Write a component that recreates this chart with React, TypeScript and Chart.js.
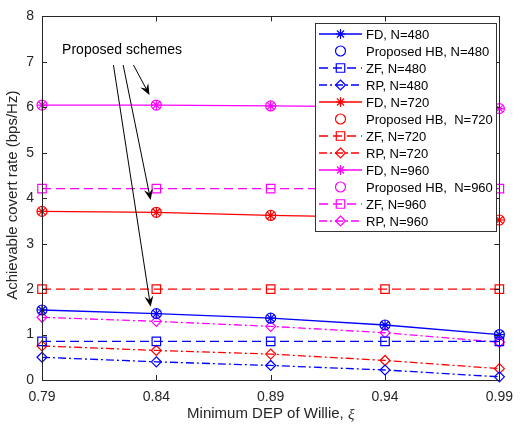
import React, { useEffect, useRef } from 'react';
import { Chart, registerables } from 'chart.js';

Chart.register(...registerables);

// ---- Data ----
const xLabels = ['0.79', '0.84', '0.89', '0.94', '0.99'];
const yMin = 0;
const yMax = 8;

const fd480 = [1.54, 1.46, 1.36, 1.21, 1.0];
const hb480 = [1.54, 1.46, 1.36, 1.21, 1.0];
const zf480 = [0.85, 0.85, 0.85, 0.85, 0.85];
const rp480 = [0.5, 0.4, 0.32, 0.22, 0.07];

const fd720 = [3.71, 3.69, 3.62, 3.58, 3.52];
const hb720 = [3.71, 3.69, 3.62, 3.58, 3.52];
const zf720 = [2.0, 2.0, 2.0, 2.0, 2.0];
const rp720 = [0.75, 0.65, 0.57, 0.43, 0.25];

const fd960 = [6.05, 6.05, 6.03, 6.01, 5.97];
const hb960 = [6.05, 6.05, 6.03, 6.01, 5.97];
const zf960 = [4.21, 4.21, 4.21, 4.21, 4.21];
const rp960 = [1.38, 1.29, 1.18, 1.04, 0.83];

const seriesLabels = [
  'FD, N=480', 'Proposed HB, N=480', 'ZF, N=480', 'RP, N=480',
  'FD, N=720', 'Proposed HB,  N=720', 'ZF, N=720', 'RP, N=720',
  'FD, N=960', 'Proposed HB,  N=960', 'ZF, N=960', 'RP, N=960',
];

// annotation (in data units: x as category index, y as value)
const annotText = 'Proposed schemes';
const annotTextPos = [0.7, 7.25];
const arrowStarts = [[0.8, 6.93], [0.71, 6.93], [0.625, 6.93]];
const arrowTips = [[0.94, 6.27], [0.95, 3.96], [0.95, 1.61]];

const BLUE = '#0000ff';
const RED = '#ff0000';
const MAG = '#ff00ff';
const FONT = '"Liberation Sans", Arial, Helvetica, sans-serif';
const AXC = '#262626';

const DASH = [9, 5];
const DASHDOT = [8, 3, 2, 3];

function makeSet(label: string, data: number[], color: string, kind: string) {
  const base: any = {
    label,
    data,
    borderColor: color,
    backgroundColor: 'rgba(0,0,0,0)',
    pointBorderColor: color,
    pointBackgroundColor: 'rgba(0,0,0,0)',
    borderWidth: 1.3,
    pointBorderWidth: 1.2,
    pointHoverRadius: 5,
    tension: 0,
  };
  if (kind === 'fd') {
    return { ...base, pointStyle: 'star', pointRadius: 5, showLine: true, borderDash: [] };
  }
  if (kind === 'hb') {
    return { ...base, pointStyle: 'circle', pointRadius: 5, showLine: false };
  }
  if (kind === 'zf') {
    return { ...base, pointStyle: 'rect', pointRadius: 6, showLine: true, borderDash: DASH };
  }
  return { ...base, pointStyle: 'rectRot', pointRadius: 5, showLine: true, borderDash: DASHDOT };
}

function drawMarker(ctx: CanvasRenderingContext2D, style: string, r: number, x: number, y: number, color: string) {
  ctx.save();
  ctx.strokeStyle = color;
  ctx.lineWidth = 1.2;
  ctx.setLineDash([]);
  ctx.beginPath();
  if (style === 'circle') {
    ctx.arc(x, y, r, 0, Math.PI * 2);
  } else if (style === 'rect') {
    const s = r * Math.SQRT1_2;
    ctx.rect(x - s, y - s, 2 * s, 2 * s);
  } else if (style === 'rectRot') {
    ctx.moveTo(x, y - r);
    ctx.lineTo(x + r, y);
    ctx.lineTo(x, y + r);
    ctx.lineTo(x - r, y);
    ctx.closePath();
  } else if (style === 'star') {
    ctx.moveTo(x - r, y); ctx.lineTo(x + r, y);
    ctx.moveTo(x, y - r); ctx.lineTo(x, y + r);
    const d = r * Math.SQRT1_2;
    ctx.moveTo(x - d, y - d); ctx.lineTo(x + d, y + d);
    ctx.moveTo(x - d, y + d); ctx.lineTo(x + d, y - d);
  }
  ctx.stroke();
  ctx.restore();
}

const decorPlugin = {
  id: 'decor',
  afterDraw(chart: any) {
    const ctx: CanvasRenderingContext2D = chart.ctx;
    const ca = chart.chartArea;
    const xs = chart.scales.x;
    const ys = chart.scales.y;
    ctx.save();

    // box
    ctx.strokeStyle = AXC;
    ctx.lineWidth = 1;
    ctx.setLineDash([]);
    ctx.strokeRect(Math.round(ca.left) + 0.5, Math.round(ca.top) + 0.5, Math.round(ca.right - ca.left), Math.round(ca.bottom - ca.top));

    // inward ticks
    const tl = 5;
    ctx.beginPath();
    for (let i = 0; i < xLabels.length; i++) {
      const px = Math.round(xs.getPixelForValue(i)) + 0.5;
      ctx.moveTo(px, ca.bottom);
      ctx.lineTo(px, ca.bottom - tl);
      ctx.moveTo(px, ca.top);
      ctx.lineTo(px, ca.top + tl);
    }
    for (let v = yMin; v <= yMax; v++) {
      const py = Math.round(ys.getPixelForValue(v)) + 0.5;
      ctx.moveTo(ca.left, py);
      ctx.lineTo(ca.left + tl, py);
      ctx.moveTo(ca.right, py);
      ctx.lineTo(ca.right - tl, py);
    }
    ctx.stroke();

    // axis titles
    ctx.fillStyle = AXC;
    ctx.textBaseline = 'middle';
    ctx.save();
    ctx.translate(13, (ca.top + ca.bottom) / 2 - 3);
    ctx.rotate(-Math.PI / 2);
    ctx.textAlign = 'center';
    ctx.font = `15px ${FONT}`;
    ctx.fillText('Achievable covert rate (bps/Hz)', 0, 0);
    ctx.restore();

    const t1 = 'Minimum DEP of Willie, ';
    const t2 = 'ξ';
    ctx.font = `15px ${FONT}`;
    const w1 = ctx.measureText(t1).width;
    ctx.font = `italic 15px "Liberation Serif", "Times New Roman", serif`;
    const w2 = ctx.measureText(t2).width;
    const cx = (ca.left + ca.right) / 2;
    const startX = cx - (w1 + w2) / 2;
    const ty = 414;
    ctx.textAlign = 'left';
    ctx.font = `15px ${FONT}`;
    ctx.fillText(t1, startX, ty);
    ctx.font = `italic 15px "Liberation Serif", "Times New Roman", serif`;
    ctx.fillText(t2, startX + w1, ty + 1);

    // legend
    const lx0 = 315, ly0 = 23, lx1 = 496, ly1 = 231;
    ctx.fillStyle = '#ffffff';
    ctx.fillRect(lx0, ly0, lx1 - lx0, ly1 - ly0);
    ctx.strokeStyle = '#333333';
    ctx.lineWidth = 1;
    ctx.strokeRect(lx0 + 0.5, ly0 + 0.5, lx1 - lx0, ly1 - ly0);
    const dsets = chart.data.datasets;
    const rowStep = (221 - 34) / 11;
    for (let i = 0; i < dsets.length; i++) {
      const d = dsets[i];
      const ry = 34 + i * rowStep;
      if (d.showLine !== false) {
        ctx.save();
        ctx.strokeStyle = d.borderColor;
        ctx.lineWidth = 1.3;
        ctx.setLineDash(d.borderDash || []);
        ctx.beginPath();
        ctx.moveTo(319, ry);
        ctx.lineTo(362, ry);
        ctx.stroke();
        ctx.restore();
      }
      drawMarker(ctx, d.pointStyle, d.pointRadius, 340.5, ry, d.borderColor);
      ctx.fillStyle = '#000000';
      ctx.font = `13px ${FONT}`;
      ctx.textAlign = 'left';
      ctx.textBaseline = 'middle';
      ctx.fillText(d.label, 366, ry + 1);
    }

    // annotation
    ctx.fillStyle = '#000000';
    ctx.font = `14px ${FONT}`;
    ctx.textAlign = 'center';
    ctx.textBaseline = 'middle';
    ctx.fillText(annotText, xs.getPixelForValue(annotTextPos[0]), ys.getPixelForValue(annotTextPos[1]));

    for (let i = 0; i < arrowStarts.length; i++) {
      const sx = xs.getPixelForValue(arrowStarts[i][0]);
      const sy = ys.getPixelForValue(arrowStarts[i][1]);
      const ex = xs.getPixelForValue(arrowTips[i][0]);
      const ey = ys.getPixelForValue(arrowTips[i][1]);
      const ang = Math.atan2(ey - sy, ex - sx);
      const L = 11, W = 4.5, notch = 7;
      ctx.strokeStyle = '#000000';
      ctx.lineWidth = 1;
      ctx.setLineDash([]);
      ctx.beginPath();
      ctx.moveTo(sx, sy);
      ctx.lineTo(ex - Math.cos(ang) * notch, ey - Math.sin(ang) * notch);
      ctx.stroke();
      const bx = ex - Math.cos(ang) * L;
      const by = ey - Math.sin(ang) * L;
      const nx = -Math.sin(ang), ny = Math.cos(ang);
      ctx.fillStyle = '#000000';
      ctx.beginPath();
      ctx.moveTo(ex, ey);
      ctx.lineTo(bx + nx * W, by + ny * W);
      ctx.lineTo(ex - Math.cos(ang) * notch, ey - Math.sin(ang) * notch);
      ctx.lineTo(bx - nx * W, by - ny * W);
      ctx.closePath();
      ctx.fill();
    }

    ctx.restore();
  },
};

export default function App() {
  const ref = useRef<HTMLCanvasElement | null>(null);
  useEffect(() => {
    if (!ref.current) return;
    const datasets = [
      makeSet(seriesLabels[0], fd480, BLUE, 'fd'),
      makeSet(seriesLabels[1], hb480, BLUE, 'hb'),
      makeSet(seriesLabels[2], zf480, BLUE, 'zf'),
      makeSet(seriesLabels[3], rp480, BLUE, 'rp'),
      makeSet(seriesLabels[4], fd720, RED, 'fd'),
      makeSet(seriesLabels[5], hb720, RED, 'hb'),
      makeSet(seriesLabels[6], zf720, RED, 'zf'),
      makeSet(seriesLabels[7], rp720, RED, 'rp'),
      makeSet(seriesLabels[8], fd960, MAG, 'fd'),
      makeSet(seriesLabels[9], hb960, MAG, 'hb'),
      makeSet(seriesLabels[10], zf960, MAG, 'zf'),
      makeSet(seriesLabels[11], rp960, MAG, 'rp'),
    ];
    const chart = new Chart(ref.current, {
      type: 'line',
      data: { labels: xLabels, datasets },
      options: {
        responsive: false,
        animation: false,
        devicePixelRatio: 1,
        clip: false as any,
        layout: { padding: { top: 13, right: 14, left: 0, bottom: 0 } },
        plugins: { legend: { display: false }, tooltip: { enabled: false } },
        scales: {
          x: {
            type: 'category',
            offset: false,
            grid: { display: false, drawTicks: false },
            border: { display: false },
            ticks: { color: AXC, font: { family: FONT, size: 14 }, padding: 9, maxRotation: 0, autoSkip: false },
            afterFit: (s: any) => { s.height = 46; },
          },
          y: {
            type: 'linear',
            min: yMin,
            max: yMax,
            grid: { display: false, drawTicks: false },
            border: { display: false },
            ticks: { stepSize: 1, color: AXC, font: { family: FONT, size: 14 }, padding: 8 },
            afterFit: (s: any) => { s.width = 42; },
          },
        },
      } as any,
      plugins: [decorPlugin],
    });
    return () => chart.destroy();
  }, []);
  return (
    <div style={{ position: 'fixed', left: 0, top: 0, width: 522, height: 426, background: '#fff' }}>
      <canvas ref={ref} width={522} height={426} style={{ width: 522, height: 426, display: 'block' }} />
    </div>
  );
}
